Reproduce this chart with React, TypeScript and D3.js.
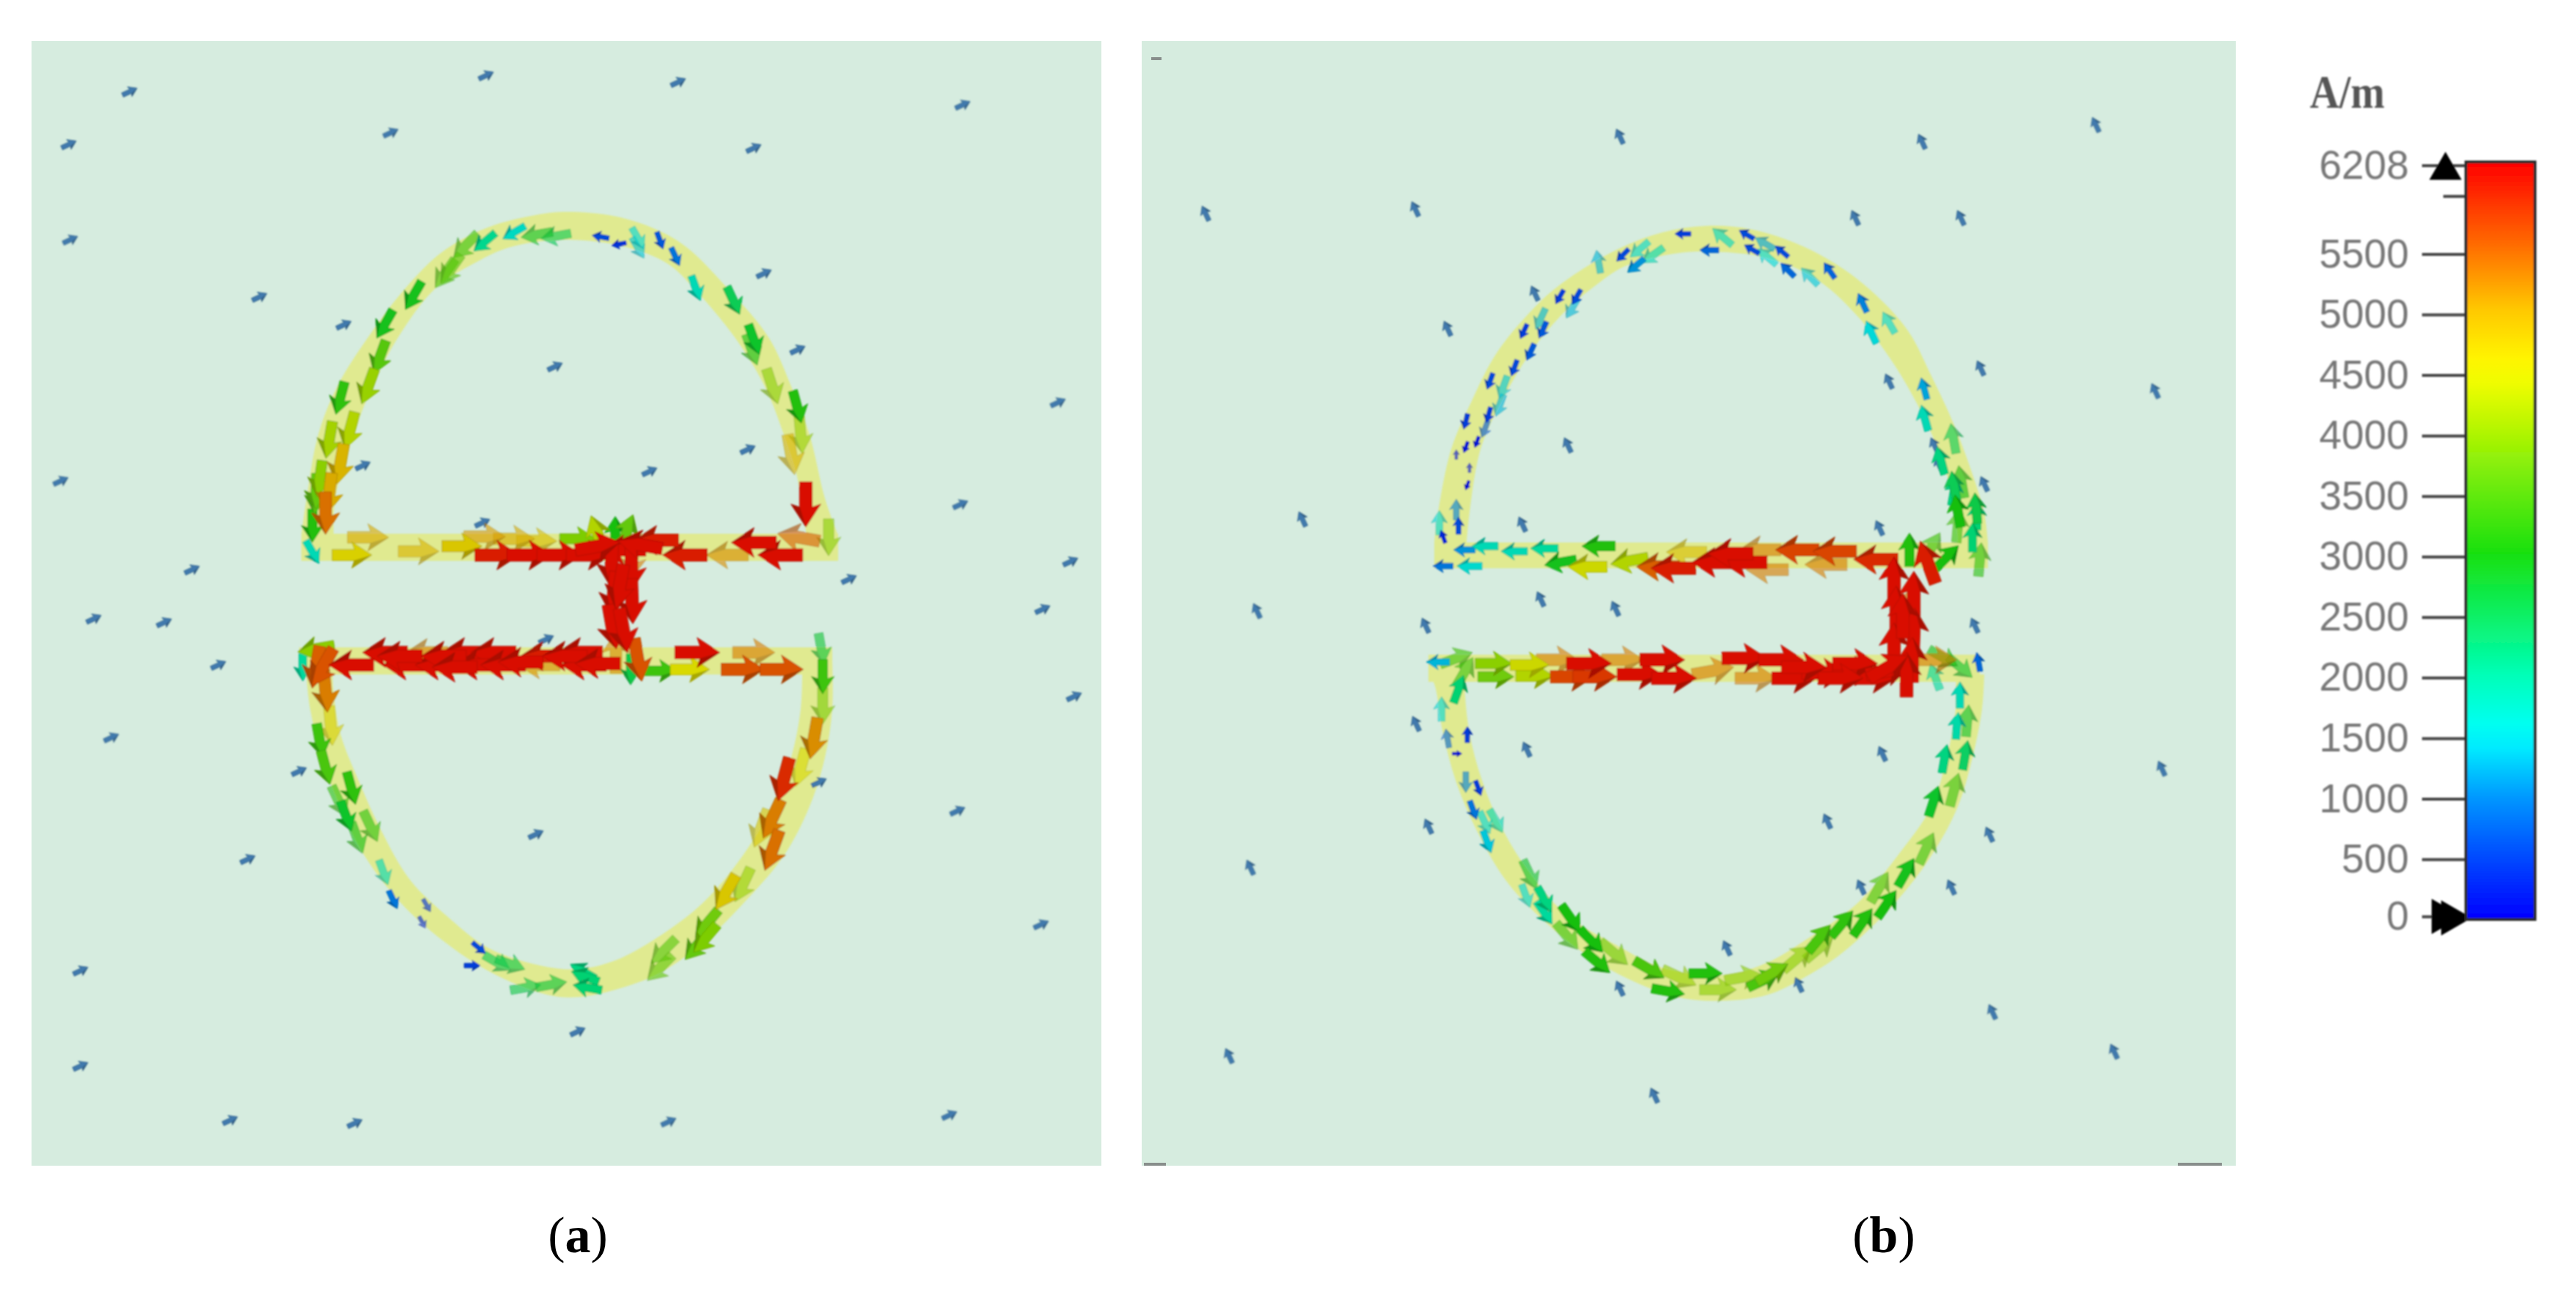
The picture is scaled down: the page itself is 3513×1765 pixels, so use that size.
import React, { useEffect, useRef } from "react";
import * as d3 from "d3";

type Arrow = [number, number, number, number]; // x, y, H in A/m, direction in degrees
type Pt = [number, number];

const colorStops = [0, 500, 1000, 1500, 2000, 3000, 4500, 5000, 5500, 6208];
const colorValues = ["#0000ff", "#0048ff", "#0098ff", "#00ffff", "#00ffb8", "#18e010", "#ffff00", "#ffc800", "#ff7000", "#ff0000"];
const tickValues = [0, 500, 1000, 1500, 2000, 2500, 3000, 3500, 4000, 4500, 5000, 5500, 6208];
const minorTick = 5960;

// free field arrows outside the strip
const fieldA: Pt[] = [[17.7,12.5],[9.4,19.7],[9.6,32.7],[66.3,10.3],[92.5,11.2],[131.3,14.3],[53.3,18.1],[102.8,20.2],[35.4,40.5],[46.9,44.3],[75.7,50],[104.2,37.3],[108.8,47.7],[102,61.3],[88.6,64.3],[49.5,63.5],[144.3,54.9],[8.3,65.6],[131,68.8],[26.2,77.7],[12.8,84.4],[22.4,84.9],[29.8,90.7],[142.2,83.1],[146,76.6],[146.5,95],[15.2,100.6],[130.6,110.6],[33.8,117.2],[73.1,113.8],[111.7,106.7],[40.8,105.2],[142,126.1],[11,132.4],[78.8,140.7],[11,145.4],[31.4,152.8],[48.4,153.2],[91.2,153],[129.5,152.1],[65.8,71.3],[115.8,79],[74.5,87.2]];
const fieldB: Pt[] = [[70.9,18.6],[112.1,19.3],[135.8,17],[14.4,29.1],[43,28.5],[103,29.7],[117.4,29.7],[59.3,40],[47.4,44.8],[107.6,52],[120.1,50.2],[113.8,60.7],[63.8,60.7],[114.4,63.3],[120.6,66],[143.9,53.3],[27.6,70.8],[57.6,71.5],[106.3,72],[60.1,81.7],[70.3,83],[44.4,85.3],[119.3,85.3],[43.1,98.7],[58.2,102.2],[106.7,102.8],[44.8,112.7],[99.2,112],[121.3,113.8],[116.1,121],[103.8,121],[85.5,129.3],[70.9,134.8],[95.3,134.3],[144.8,104.8],[20.5,118.3],[121.7,138],[138.3,143.4],[17.6,144],[75.6,149.4],[21.4,83.3]];

const backA: Arrow[] = [[63.5,33.5,3300,135],[73.2,32,2800,170],[75.8,32.2,2500,170],[87,32.5,1500,60],[87,33.8,1400,60],[102.5,47.7,3000,70],[105.3,52.7,3900,72],[109.2,59.3,4000,85],[107.9,62,4900,80],[61.5,36.7,3500,125],[60.7,37.3,3400,125],[113,73.3,3900,90],[50.2,73.3,5000,0],[57.1,75.2,4900,0],[66.1,73.2,5100,0],[70.1,73.5,5000,0],[73.2,73.8,4800,0],[99.2,75.7,5200,180],[108.9,73.3,5500,-170],[86.2,76.2,5300,95],[58.2,89,5300,180],[73.5,90.7,5200,180],[84,89,5200,-90],[102.8,89,5300,0],[112,88.5,2700,80],[45.1,99,4600,85],[46.2,109.3,3200,65],[50.5,112.7,3200,65],[48.7,114.3,3000,70],[52.3,119,1800,70],[58.2,123.5,400,60],[57.6,125.8,300,60],[67.8,131.3,2500,30],[69.6,131.5,2600,20],[71.7,134.7,2600,-10],[75.2,134.3,2700,-10],[90.5,129.7,3500,135],[90,132,3600,135],[101.3,120.7,4000,115],[103.8,113,4700,110],[109.2,104.7,4500,105],[112.2,96.3,3800,90]];
const frontA: Arrow[] = [[48,75.7,4600,0],[63,74.5,4700,0],[78.8,73.5,3800,0],[83.9,72.7,3000,-90],[81.5,72.8,4200,-110],[85.5,72.5,3600,-70],[42.6,75.3,1800,60],[67.8,75.7,6000,0],[72.2,75.7,6100,0],[76.3,75.7,6100,0],[80.3,75.7,6100,0],[93.4,75.7,6000,180],[106.4,75.7,6100,180],[102.8,74,6100,180],[89.5,73.7,6000,180],[85,75,6100,180],[109.9,68.8,6100,90],[83.4,77,6100,92],[86.1,77.5,6100,90],[83.7,81,6100,95],[86.2,82,6100,88],[83.5,85.5,6100,80],[52.5,89,6100,180],[63.3,89,6100,180],[67.3,89,6100,180],[79.1,89,6100,180],[47.9,90.7,6100,180],[55.3,90.7,6100,180],[59.7,90.7,6100,180],[65,90.7,6100,180],[68.6,90.7,6100,180],[79.6,90.7,6100,180],[74,89.5,6000,180],[86,91.3,2600,90],[87,90,5600,80],[95.1,89,6100,0],[90,91.5,3300,0],[94.1,91.3,4500,0],[101.3,91.3,5600,0],[106.6,91.3,5600,0],[41.3,91,2000,90],[43.1,91,5500,100],[43.1,88.5,3900,170],[44,91,5600,120],[66.1,33,2100,140],[70.1,31.7,1700,150],[81.9,32.3,600,-170],[84.4,33.3,400,170],[90,32.8,700,70],[92.1,35,900,65],[94.9,39.3,1800,70],[100,41,2500,65],[102.8,46.3,2800,70],[108.7,55.5,3100,75],[56.4,40.3,2900,120],[52.5,44.2,2900,120],[51.8,48.7,3500,110],[50.2,52.7,4000,110],[46.4,54.3,3200,105],[47.7,58.7,4200,105],[44.9,60,4100,100],[46.4,63.3,4900,100],[43.6,65.3,3900,98],[43.1,67.7,3500,95],[44.9,67.3,5000,97],[43.1,67,3600,92],[42.6,71.7,3100,90],[44.4,70,5400,90],[44.4,94.3,5300,85],[43.6,101,3300,80],[44.4,104.7,3400,75],[47.9,107.5,3200,75],[47.2,111.3,2800,70],[53.6,122.7,900,65],[65.3,129.3,600,40],[64.4,131.7,500,0],[79.8,133.2,2300,-160],[80.1,134.7,2300,-170],[79.5,132.5,2200,-150],[96.2,128,3800,130],[96.4,126,3700,130],[95,129,3600,130],[99,121.7,4700,120],[105.3,116,5400,110],[105.3,111.7,5300,115],[106.9,106.3,5900,105],[111,100.7,5200,100],[112.2,92.3,3300,90],[54.5,89.5,6100,180],[60.5,89.5,6100,180],[71,90.3,6100,180],[77,89.5,6100,180],[62,91,6100,180],[81.5,90.5,6100,180],[81.5,74.5,6100,-10],[87.3,74.3,6100,-170],[84.5,80,6100,100],[85,86,6100,80]];

const backB: Arrow[] = [[46.3,71.3,1500,-90],[80,75.3,4800,180],[90,75,5300,180],[91,77.7,5300,180],[99,77,5300,180],[113.4,74.7,3300,-60],[117,71.7,3300,-85],[120,76.3,3200,-85],[110,83,5400,-75],[114,90,5300,0],[71.3,90,5300,0],[62.4,90,5300,0],[83.6,91.5,5300,-10],[89.5,92.5,5300,0],[48.6,89.8,3300,-20],[49.7,91.7,3300,-60],[46.6,96.7,1500,-90],[115,89.7,3000,30],[117.3,91,2800,40],[113.9,92.3,2000,-110],[48.6,69.5,1000,-90],[50.4,63.8,100,-90],[48.6,62,100,-90],[52.5,58.5,700,110],[54.5,55.3,1300,110],[55,52.8,1400,110],[60.1,43.5,1300,115],[64.4,42,1300,120],[68,35.7,1300,-100],[73.6,34,1500,140],[75.4,34.8,1800,145],[84.9,32.3,1700,-140],[90.7,33.2,1200,-150],[91,35,1500,-140],[96.8,37.7,1400,-135],[107.6,44,1500,-120],[116.4,59.8,2500,-100],[117.5,65.7,3000,-100],[118.3,98.3,2800,-85],[47.4,100.7,800,-100],[49.9,106.7,1000,90],[54,112,1800,60],[52.5,112.2,1500,65],[58.6,119.3,2800,65],[58.1,122.2,1500,70],[63.7,127.7,3300,50],[70.1,130,3700,40],[79,133.3,4000,25],[84.3,135,3900,0],[87.7,133.3,3900,-10],[95.1,130.7,3900,-40],[98.1,129.3,3800,-40],[106.3,121,3400,-60],[112.7,115.7,3300,-65],[116.5,107.7,3300,-75]];
const frontB: Arrow[] = [[49.7,75,1100,180],[52.5,74.5,1800,180],[56.5,75.2,1800,180],[60.6,74.8,2000,180],[68,74.5,3100,180],[62.8,76.7,2900,170],[66.5,77.3,4400,180],[72.2,76.5,4200,170],[76.1,77.3,5500,180],[78.2,77.5,6000,180],[83.8,76.7,6100,180],[87.9,76.7,6100,180],[95.1,75,5700,180],[100.2,75.2,5700,180],[105.8,76.3,5900,180],[46.8,77.2,900,180],[50.4,77.2,1600,180],[48.9,71.7,600,-90],[46.8,73.2,300,-110],[110.4,75,3100,-90],[112.9,76.7,6000,-110],[115.5,76,3000,-45],[119.6,70.3,2300,-90],[119,73.3,2300,-90],[116.5,67,2200,-80],[108.3,79,6100,-90],[108.6,83,6100,-90],[108.3,88,6100,-90],[111,81,6100,-90],[111,86,6100,-88],[110.8,90,6100,-90],[53.7,90.5,3900,0],[54,92.3,3700,0],[58.6,90.7,4400,0],[59.3,92.2,4200,0],[64.4,92.3,5700,0],[66.7,90.5,6100,0],[67.5,92.3,5800,0],[73.6,92,6100,0],[76.7,90,6100,0],[78.3,92.5,6100,0],[87.9,89.8,6100,0],[92.9,90,6100,0],[94.7,92.5,6100,0],[98.8,91.8,6100,0],[103,91.5,6100,0],[105.5,92.5,6100,0],[46.1,90.3,1300,180],[48.9,94,2300,-70],[119.8,90.3,800,-100],[50.1,66.2,100,110],[51.4,60.3,200,110],[49.9,61,200,110],[49.9,57.5,500,105],[53,56.6,500,105],[53.2,52,600,110],[56.5,50.2,600,110],[58.7,48,700,115],[60.4,45,700,115],[57.8,45.2,500,115],[62.7,40.5,500,120],[65,40.5,600,120],[71.3,34.8,600,135],[73.1,36.2,1100,140],[79.5,31.9,500,180],[83.1,34.1,800,180],[88.2,32,600,-150],[88.9,34,600,-150],[93,34.3,600,-140],[93.8,36.8,800,-135],[99.5,36.9,800,-125],[104,41.3,1000,-115],[105.2,45.3,1500,-115],[112.4,53,1200,-105],[112.5,57,1800,-105],[114.7,62.8,2200,-105],[116.5,66.3,2500,-100],[117,69.7,3000,-100],[119.5,69.3,2600,-95],[50.1,100.2,500,-90],[48.7,102.8,100,0],[51.6,107.5,500,70],[50.9,110.5,900,70],[52.8,114.8,1400,70],[60.6,122.7,2200,60],[60.6,124.5,2000,55],[64.2,125.3,3000,55],[67,128.3,3000,45],[67.8,131.2,3100,40],[74.9,132.2,3400,30],[77.5,135.2,3100,10],[82.6,132.8,3100,0],[90.5,133.7,3400,-25],[91.7,132.7,3700,-30],[98.1,128,3400,-50],[101.2,126,3200,-50],[104,125.8,3100,-55],[107.3,123.3,3000,-55],[109.9,119,2900,-60],[113.7,109.3,2800,-72],[115.2,103.5,2200,-80],[118,103,2400,-80],[116.9,99,1900,-85],[117.3,94.8,1800,-90],[86,75.5,6100,180],[103,90.5,6100,0],[107.5,91.5,6100,-10],[101,92.5,6100,0],[96,91,6100,0],[109.5,84,6100,-90],[110,92,6100,-90],[107.5,91,6100,-30]];

// strip outline, outer edge then inner edge of each arc
const domeTopOuterA: Pt[] = [[41.1,73],[41.8,68],[43.4,59.3],[46,52.7],[50.2,46],[55.3,39.3],[60.4,34.3],[66.6,31],[73.2,29.3],[77.3,28.9],[83.9,29.5],[89.5,31.3],[93.6,33.7],[99.2,39.3],[104.8,46],[107.9,52.7],[110.4,59.3],[112.5,68],[114.3,73]];
const domeTopInnerA: Pt[] = [[45.5,73],[45.7,68],[48.2,59.3],[50.8,52.7],[54.3,46],[59.4,39.3],[64.5,36],[69.6,33.7],[77.3,32.7],[85.4,33.7],[91.1,36],[94.6,39.3],[100.2,46],[104.3,52.7],[106.9,59.3],[108.7,65],[110,73]];
const domeLowOuterA: Pt[] = [[41.6,90],[42.3,96.7],[43.9,103.3],[46.4,110],[49.7,116.7],[54.8,123.3],[60.4,128.3],[67.1,132.7],[74.7,135.7],[78.8,136],[83.9,135],[90,132.7],[96.2,128.3],[101.3,123.3],[106.9,116.7],[110.4,110],[112.5,103.3],[113.5,96.7],[113.5,90]];
const domeLowInnerA: Pt[] = [[45.4,92],[45.4,93.3],[46.4,100],[49,106.7],[52,113.3],[55.9,120],[61,125],[66.6,129.3],[73.7,131.7],[78.8,132.2],[83.9,131],[89,128.3],[95.7,123.3],[101.3,116.7],[105.3,110],[107.9,103.3],[109.2,96.7],[109.4,92]];
const domeTopOuterB: Pt[] = [[45.6,74],[46.1,70],[47.9,61.3],[50.7,54.7],[54.2,48],[59.9,41.3],[63.9,38],[70.6,34],[76.7,31.7],[82.8,30.8],[88.9,31.3],[96.1,33.7],[103.2,38],[109.9,44.7],[113.4,51.3],[116.5,58],[119,64.7],[120.6,70],[121.1,74]];
const domeTopInnerB: Pt[] = [[50,74],[50.4,70],[51.9,61.3],[54.8,54.7],[58.8,48],[62.9,43],[67.5,39],[71.6,36.3],[77.7,34.7],[82.8,34.3],[91,35.2],[97.6,38],[103.2,43],[108.3,49.7],[112.9,58],[115.5,64.7],[116.7,70],[117,74]];
const domeLowOuterB: Pt[] = [[44.8,92],[45.6,93.3],[46.8,100],[48.6,106.7],[51.4,113.3],[55.3,120],[59.9,125],[66,130],[71.6,133.3],[78.7,136],[84.9,136.5],[91,135.7],[96.1,133.3],[101.2,130],[108.3,123.3],[113.4,116.7],[117,110],[119,103.3],[120.3,96.7],[120.6,92]];
const domeLowInnerB: Pt[] = [[49.7,92],[49.7,93.3],[50.4,100],[52.2,106.7],[55,113.3],[59.3,120],[63.9,125],[70.6,129],[76.7,132],[84.9,133],[91,131.3],[96.1,128.3],[103.2,123.3],[108.8,116.7],[113.4,110],[115.5,103.3],[116.7,96.7],[116.7,92]];
const barsA = [[41.1,114.3,72.8,76.5],[40.8,113.5,88.3,92]];
const barsB = [[45.6,121.1,74,77.5],[44.8,120,89.3,93]];
const specksB: Pt[] = [[7,7.8],[6,158.6],[147,158.6],[150,158.6]];

const xA = d3.scaleLinear().domain([4.3, 150.2]).range([43, 1502]);
const xB = d3.scaleLinear().domain([5.7, 154.9]).range([1557, 3049]);
const yF = d3.scaleLinear().domain([5.6, 159]).range([56, 1590]);
const hColor = d3.scaleLinear<string>().domain(colorStops).range(colorValues).interpolate(d3.interpolateRgb);
const hLen = d3.scaleSqrt().domain([0, 6208]).range([6, 62]);
const hAxis = d3.scaleLinear().domain([0, 500, 5500, 6208]).range([1250, 1172, 346.5, 225.5]);

function arrowPath(len: number) {
  const p = d3.path();
  const shaft = len * 0.14;
  const head = len * 0.33;
  const neck = len * 0.06;
  p.moveTo(len / 2, 0);
  p.lineTo(neck - head * 0.2, -head);
  p.lineTo(neck, -shaft);
  p.lineTo(-len / 2, -shaft);
  p.lineTo(-len / 2, shaft);
  p.lineTo(neck, shaft);
  p.lineTo(neck - head * 0.2, head);
  p.closePath();
  return p.toString();
}

function barbPath(len: number) {
  const p = d3.path();
  const head = len * 0.33;
  const neck = len * 0.06;
  p.moveTo(len / 2, 0);
  p.lineTo(neck - head * 0.2, head);
  p.lineTo(neck, head * 0.4);
  p.closePath();
  return p.toString();
}

function VectorMark({ a, x, fill, opacity }: { a: Arrow; x: any; fill?: string; opacity?: number }) {
  const [fx, fy, h, deg] = a;
  const len = hLen(h);
  const base = fill || (d3.color(hColor(h)) as any).darker(0.45).formatHex();
  return (
    <g transform={`translate(${x(fx)},${yF(fy)}) rotate(${deg})`} opacity={opacity}>
      <path d={arrowPath(len)} fill={base} stroke={(d3.color(base) as any).darker(0.6).formatHex()} strokeWidth={0.8} />
      <path d={barbPath(len)} fill="#000" opacity={0.22} />
    </g>
  );
}

function Arc({ outer, inner, x }: { outer: Pt[]; inner: Pt[]; x: any }) {
  const line = d3.line<Pt>().x((d) => x(d[0])).y((d) => yF(d[1])).curve(d3.curveCatmullRom);
  const inv = inner.slice().reverse();
  return <path d={`${line(outer)}L${(line(inv) as string).slice(1)}Z`} fill="#e0ea90" />;
}

function Panel({ x, domain, field, fieldDeg, back, front, outlines, bars, id }: any) {
  const order = (rows: Arrow[]) => d3.sort(rows, (d) => d[2]);
  return (
    <g>
      <rect x={x(domain[0])} y={yF(5.6)} width={x(domain[1]) - x(domain[0])} height={yF(159) - yF(5.6)} fill="#d6ecdf" />
      <g filter="url(#soft)">
        {outlines.map((o: Pt[][], i: number) => (
          <Arc key={i} outer={o[0]} inner={o[1]} x={x} />
        ))}
        {bars.map((b: number[], i: number) => (
          <rect key={i} x={x(b[0])} y={yF(b[2])} width={x(b[1]) - x(b[0])} height={yF(b[3]) - yF(b[2])} fill="#e0ea90" />
        ))}
        {field.map((p: Pt, i: number) => (
          <VectorMark key={`${id}f${i}`} a={[p[0], p[1], 500, fieldDeg]} x={x} fill="#3f79ad" />
        ))}
        {order(back).map((a: Arrow, i: number) => (
          <VectorMark key={`${id}b${i}`} a={a} x={x} opacity={0.62} />
        ))}
        {order(front).map((a: Arrow, i: number) => (
          <VectorMark key={`${id}t${i}`} a={a} x={x} />
        ))}
      </g>
    </g>
  );
}

function ColorBar() {
  const ref = useRef<SVGGElement>(null);
  useEffect(() => {
    const g = d3.select(ref.current);
    g.call(
      d3
        .axisLeft(hAxis)
        .tickValues(tickValues)
        .tickSize(60)
        .tickPadding(18)
        .tickFormat((d) => String(d)) as any
    );
    g.select(".domain").remove();
    g.selectAll(".tick line").attr("stroke", "#444").attr("stroke-width", 4);
    g.selectAll(".tick text")
      .attr("fill", "#777")
      .attr("font-family", "Liberation Sans")
      .attr("font-size", 55);
  }, []);
  const tri = d3.symbol().type(d3.symbolTriangle).size(840)() as string;
  const tri2 = d3.symbol().type(d3.symbolTriangle).size(1000)() as string;
  const stops = d3.range(0, 6208, 200).concat(6208);
  return (
    <g>
      <defs>
        <linearGradient id="hGrad" x1="0" y1="1" x2="0" y2="0">
          {stops.map((v) => (
            <stop key={v} offset={v / 6208} stopColor={hColor(v)} />
          ))}
        </linearGradient>
      </defs>
      <g filter="url(#softText)">
        <g ref={ref} transform="translate(3363,0)" />
        <line x1={3332} x2={3363} y1={hAxis(minorTick)} y2={hAxis(minorTick)} stroke="#444" strokeWidth={4} />
        <text x={3150} y={147} fontFamily="Liberation Serif" fontWeight="bold" fontSize={64} fill="#555" textLength={102} lengthAdjust="spacingAndGlyphs">
          A/m
        </text>
        <path d={tri} transform={`translate(3335,${hAxis(6208) + 7})`} fill="#000" />
        <path d={tri2} transform={`translate(3330,${hAxis(0)}) rotate(90)`} fill="#000" />
        <path d={tri2} transform={`translate(3343,${hAxis(0) + 2}) rotate(90)`} fill="#000" />
        <rect x={3363} y={221} width={94} height={1033} fill="url(#hGrad)" stroke="#2a2a2a" strokeWidth={4} />
      </g>
    </g>
  );
}

export default function App() {
  return (
    <svg width={3513} height={1765} style={{ position: "absolute", left: 0, top: 0, background: "#fff" }}>
      <defs>
        <filter id="soft" x="0" y="0" width="3513" height="1765" filterUnits="userSpaceOnUse">
          <feGaussianBlur stdDeviation={1.3} />
        </filter>
        <filter id="softText" x="3000" y="0" width="513" height="1765" filterUnits="userSpaceOnUse">
          <feGaussianBlur stdDeviation={0.8} />
        </filter>
      </defs>
      <Panel
        id="a"
        x={xA}
        domain={[4.3, 150.2]}
        field={fieldA}
        fieldDeg={-25}
        back={backA}
        front={frontA}
        bars={barsA}
        outlines={[
          [domeTopOuterA, domeTopInnerA],
          [domeLowOuterA, domeLowInnerA],
        ]}
      />
      <Panel
        id="b"
        x={xB}
        domain={[5.7, 154.9]}
        field={fieldB}
        fieldDeg={-115}
        back={backB}
        front={frontB}
        bars={barsB}
        outlines={[
          [domeTopOuterB, domeTopInnerB],
          [domeLowOuterB, domeLowInnerB],
        ]}
      />
      {specksB.map((s, i) => (
        <rect key={i} x={xB(s[0])} y={yF(s[1])} width={i === 0 ? 14 : 30} height={4} fill="#666" opacity={0.7} />
      ))}
      <ColorBar />
      <text x={788} y={1708} textAnchor="middle" fontFamily="Liberation Serif" fontSize={70}>
        (<tspan fontWeight="bold">a</tspan>)
      </text>
      <text x={2569} y={1708} textAnchor="middle" fontFamily="Liberation Serif" fontSize={70}>
        (<tspan fontWeight="bold">b</tspan>)
      </text>
    </svg>
  );
}
